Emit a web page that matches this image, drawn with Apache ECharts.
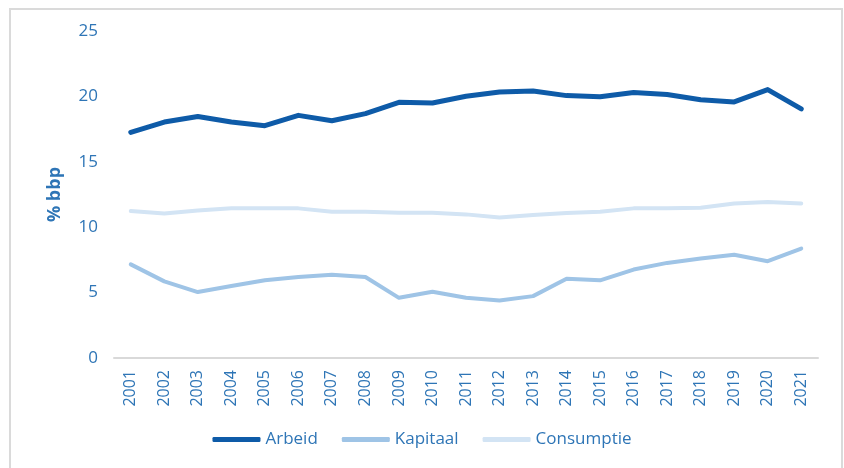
<!DOCTYPE html>
<html>
<head>
<meta charset="utf-8">
<script src="https://cdn.jsdelivr.net/npm/echarts@6/dist/echarts.min.js"></script>
<style>
  html, body { margin: 0; padding: 0; background: #fff; }
  #chart { width: 844px; height: 468px; }
</style>
</head>
<body>
<div id="chart"></div>
<script>
const years = [
  "2001", "2002", "2003", "2004", "2005", "2006", "2007", "2008", "2009", "2010",
  "2011", "2012", "2013", "2014", "2015", "2016", "2017", "2018", "2019", "2020", "2021",
];
const arbeid = [
  17.25, 18.04, 18.47, 18.04, 17.76, 18.55, 18.14, 18.68, 19.55, 19.5,
  20.01, 20.34, 20.42, 20.06, 19.98, 20.29, 20.14, 19.75, 19.58, 20.52, 19.04,
];
const kapitaal = [
  7.16, 5.86, 5.04, 5.5, 5.94, 6.19, 6.37, 6.19, 4.6, 5.07,
  4.6, 4.4, 4.73, 6.06, 5.94, 6.76, 7.27, 7.6, 7.9, 7.4, 8.37,
];
const consumptie = [
  11.23, 11.05, 11.28, 11.44, 11.44, 11.44, 11.18, 11.18, 11.1, 11.1,
  10.98, 10.75, 10.93, 11.08, 11.18, 11.44, 11.44, 11.49, 11.82, 11.92, 11.82,
];

const textBlue = "#2e75b6";
const font = "'Open Sans', 'Noto Sans', sans-serif";

const chart = echarts.init(document.getElementById("chart"));

function lineSeries(name, data, color, width) {
  return {
    name: name,
    type: "line",
    data: data,
    symbol: "none",
    smooth: false,
    lineStyle: { color: color, width: width, cap: "round", join: "round" },
    itemStyle: { color: color },
  };
}

chart.setOption({
  animation: false,
  textStyle: { fontFamily: font },
  graphic: [
    {
      type: "rect",
      shape: { x: 10, y: 9, width: 832, height: 480 },
      style: { fill: "none", stroke: "#dadada", lineWidth: 2 },
      silent: true,
    },
  ],
  grid: { left: 114, right: 26, top: 31, bottom: 110 },
  legend: {
    bottom: 15,
    left: "center",
    icon: "roundRect",
    itemWidth: 48,
    itemHeight: 5,
    itemGap: 24,
    textStyle: { color: textBlue, fontSize: 17, fontFamily: font },
    data: ["Arbeid", "Kapitaal", "Consumptie"],
  },
  xAxis: {
    type: "category",
    data: years,
    boundaryGap: true,
    axisLine: { lineStyle: { color: "#d9d9d9", width: 2 } },
    axisTick: { show: false },
    axisLabel: {
      color: textBlue,
      fontSize: 16,
      rotate: 90,
      margin: 12,
      interval: 0,
    },
  },
  yAxis: {
    type: "value",
    min: 0,
    max: 25,
    interval: 5,
    name: "% bbp",
    nameLocation: "middle",
    nameGap: 50,
    nameRotate: 90,
    nameTextStyle: { color: textBlue, fontSize: 18, fontWeight: "bold" },
    axisLine: { show: false },
    axisTick: { show: false },
    splitLine: { show: false },
    axisLabel: { color: textBlue, fontSize: 17, margin: 16 },
  },
  series: [
    lineSeries("Arbeid", arbeid, "#0e5ba8", 5),
    lineSeries("Kapitaal", kapitaal, "#9fc4e6", 4),
    lineSeries("Consumptie", consumptie, "#d3e4f4", 4),
  ],
});
</script>
</body>
</html>
